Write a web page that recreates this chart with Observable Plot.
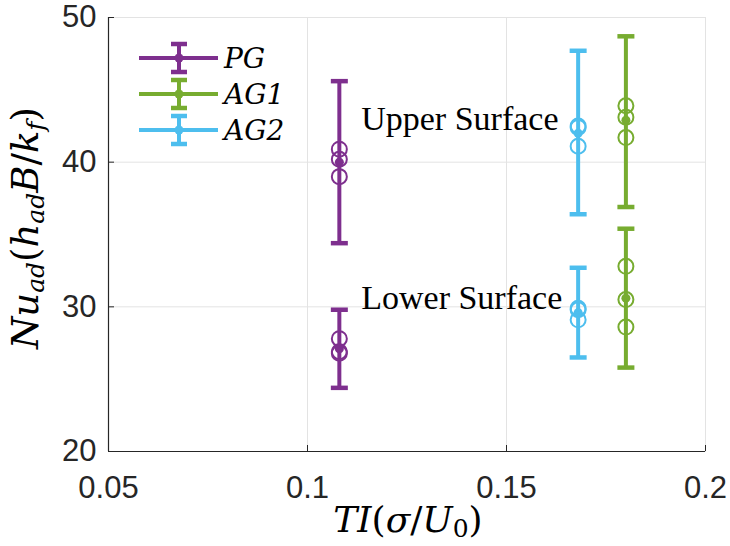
<!DOCTYPE html>
<html>
<head>
<meta charset="utf-8">
<script src="https://cdn.jsdelivr.net/npm/d3@7"></script>
<script src="https://cdn.jsdelivr.net/npm/@observablehq/plot@0.6"></script>
<style>
  html, body { margin: 0; padding: 0; background: #fff; }
  #chart { position: relative; width: 730px; height: 546px; }
</style>
</head>
<body>
<div id="chart"></div>
<script>
// ---- data ----
const series = ["PG", "AG1", "AG2"];
const colors = ["#7E2F8E", "#77AC30", "#4DBEEE"];
const tiValues = [0.108, 0.180, 0.168];

const upperMean = [40.0, 42.9, 42.0];
const upperLow = [34.4, 36.9, 36.4];
const upperHigh = [45.6, 48.7, 47.7];
const upperSamples = [[40.9, 40.2, 39.0], [43.9, 43.1, 41.7], [42.5, 42.4, 41.1]];

const lowerMean = [27.1, 30.6, 29.6];
const lowerLow = [24.4, 25.8, 26.5];
const lowerHigh = [29.8, 35.4, 32.7];
const lowerSamples = [[27.8, 26.9, 26.8], [32.8, 30.5, 28.6], [29.8, 29.1, 29.9]];

const xTicks = [0.05, 0.1, 0.15, 0.2];
const xTickLabels = ["0.05", "0.1", "0.15", "0.2"];
const yTicks = [20, 30, 40, 50];
const annotationX = [0.1135, 0.1135];
const annotationY = [43.0, 30.6];
const annotationLabels = ["Upper Surface", "Lower Surface"];

// ---- build tables ----
const bars = [];
const samples = [];
series.forEach((s, i) => {
  bars.push({series: s, color: colors[i], x: tiValues[i], mean: upperMean[i], lo: upperLow[i], hi: upperHigh[i]});
  bars.push({series: s, color: colors[i], x: tiValues[i], mean: lowerMean[i], lo: lowerLow[i], hi: lowerHigh[i]});
  upperSamples[i].forEach(v => samples.push({series: s, color: colors[i], x: tiValues[i], y: v}));
  lowerSamples[i].forEach(v => samples.push({series: s, color: colors[i], x: tiValues[i], y: v}));
});
const annotations = annotationLabels.map((t, i) => ({x: annotationX[i], y: annotationY[i], label: t}));

const capSymbol = {
  draw(context, size) {
    const r = Math.sqrt(size / Math.PI);
    context.moveTo(-r, 0);
    context.lineTo(r, 0);
  }
};

const axisColor = "#262626";
const gridColor = "#e3e3e3";
const serif = "'Liberation Serif', 'DejaVu Serif', serif";
const mathSerif = "'DejaVu Serif', 'Liberation Serif', serif";
const sans = "'Liberation Sans', Arial, sans-serif";

const plot = Plot.plot({
  width: 730,
  height: 546,
  marginLeft: 108,
  marginRight: 25,
  marginTop: 17,
  marginBottom: 95,
  style: {fontFamily: sans, fontSize: "31px", color: axisColor, background: "#fff"},
  x: {domain: [0.05, 0.2], ticks: xTicks},
  y: {domain: [20, 50], ticks: yTicks},
  color: {type: "identity"},
  marks: [
    Plot.gridX(xTicks.slice(1, -1), {stroke: gridColor, strokeOpacity: 1}),
    Plot.gridY(yTicks.slice(1, -1), {stroke: gridColor, strokeOpacity: 1}),
    Plot.frame({stroke: gridColor, strokeOpacity: 1}),
    Plot.ruleX([0.05], {stroke: axisColor, strokeWidth: 1.2}),
    Plot.ruleY([20], {stroke: axisColor, strokeWidth: 1.2}),
    Plot.axisX({ticks: xTicks, tickFormat: d => xTickLabels[xTicks.indexOf(d)], tickSize: -6, tickPadding: 30, label: null, stroke: axisColor, fill: axisColor, fontSize: 31}),
    Plot.axisY({ticks: yTicks, tickSize: -6, tickPadding: 18, label: null, stroke: axisColor, fill: axisColor, fontSize: 31}),
    Plot.ruleX(bars, {x: "x", y1: "lo", y2: "hi", stroke: "color", strokeWidth: 4}),
    Plot.dot(bars, {x: "x", y: "lo", symbol: capSymbol, r: 8.5, stroke: "color", strokeWidth: 4.5, fill: "none"}),
    Plot.dot(bars, {x: "x", y: "hi", symbol: capSymbol, r: 8.5, stroke: "color", strokeWidth: 4.5, fill: "none"}),
    Plot.dot(bars, {x: "x", y: "mean", r: 4.5, fill: "color", stroke: "none"}),
    Plot.dot(samples, {x: "x", y: "y", r: 7.5, stroke: "color", strokeWidth: 2, fill: "none"}),
    Plot.text(annotations, {x: "x", y: "y", text: "label", textAnchor: "start", fontFamily: serif, fontSize: 34, fill: "#000"})
  ]
});

const svg = d3.select(plot);
// Legend
const leg = svg.append("g").attr("text-anchor", "start");
series.forEach((s, i) => {
  const y = 58 + i * 36;
  const g = leg.append("g").attr("stroke", colors[i]);
  g.append("line").attr("x1", 139).attr("x2", 218).attr("y1", y).attr("y2", y).attr("stroke-width", 4);
  g.append("line").attr("x1", 179).attr("x2", 179).attr("y1", y - 14).attr("y2", y + 14).attr("stroke-width", 4);
  g.append("line").attr("x1", 171).attr("x2", 187).attr("y1", y - 14).attr("y2", y - 14).attr("stroke-width", 4.5);
  g.append("line").attr("x1", 171).attr("x2", 187).attr("y1", y + 14).attr("y2", y + 14).attr("stroke-width", 4.5);
  leg.append("circle").attr("cx", 179).attr("cy", y).attr("r", 4.5).attr("fill", colors[i]);
  leg.append("text").attr("x", 224).attr("y", y + 10).attr("font-family", mathSerif).attr("font-style", "italic")
    .attr("font-size", 28).attr("fill", "#000").text(s);
});

// X axis label: TI(σ/U_0)
const xl = svg.append("text").attr("x", 408).attr("y", 532).attr("text-anchor", "middle")
  .attr("font-family", mathSerif).attr("font-size", 36).attr("fill", "#000");
xl.append("tspan").attr("font-style", "italic").text("TI");
xl.append("tspan").text("(");
xl.append("tspan").attr("font-style", "italic").text("σ");
xl.append("tspan").text("/");
xl.append("tspan").attr("font-style", "italic").text("U");
xl.append("tspan").attr("font-size", 25).attr("dy", 5).text("0");
xl.append("tspan").attr("dy", -5).text(")");

// Y axis label: Nu_ad(h_ad B/k_f)
const yl = svg.append("text").attr("transform", "translate(38,228) rotate(-90)").attr("text-anchor", "middle")
  .attr("font-family", mathSerif).attr("font-size", 37).attr("fill", "#000");
yl.append("tspan").attr("font-style", "italic").text("Nu");
yl.append("tspan").attr("font-style", "italic").attr("font-size", 25).attr("dy", 6).text("ad");
yl.append("tspan").attr("dy", -6).text("(");
yl.append("tspan").attr("font-style", "italic").text("h");
yl.append("tspan").attr("font-style", "italic").attr("font-size", 25).attr("dy", 6).text("ad");
yl.append("tspan").attr("font-style", "italic").attr("dy", -6).text("B");
yl.append("tspan").text("/");
yl.append("tspan").attr("font-style", "italic").text("k");
yl.append("tspan").attr("font-style", "italic").attr("font-size", 25).attr("dy", 6).text("f");
yl.append("tspan").attr("dy", -6).text(")");

document.getElementById("chart").appendChild(plot);
</script>
</body>
</html>
